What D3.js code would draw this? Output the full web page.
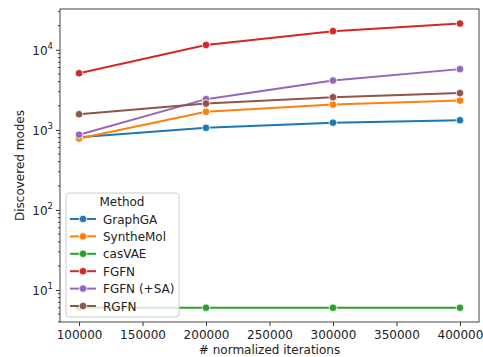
<!DOCTYPE html>
<html><head><meta charset="utf-8">
<script src="https://cdn.jsdelivr.net/npm/d3@7"></script>
<style>body{margin:0;background:#fff}text{font-family:"DejaVu Sans",sans-serif;fill:#222}</style>
</head><body><svg id="c" width="483" height="357"></svg>
<script>
const iterations = [100000, 200000, 300000, 400000];
const methods = ["GraphGA", "SyntheMol", "casVAE", "FGFN", "FGFN (+SA)", "RGFN"];
const colors = ["#1f77b4", "#ff7f0e", "#2ca02c", "#d62728", "#9467bd", "#8c564b"];
const graphGA = [810, 1060, 1230, 1320];
const syntheMol = [780, 1680, 2070, 2320];
const casVAE = [6, 6, 6, 6];
const fgfn = [5100, 11500, 17100, 21300];
const fgfnSA = [870, 2420, 4130, 5740];
const rgfn = [1570, 2130, 2560, 2880];
const seriesValues = [graphGA, syntheMol, casVAE, fgfn, fgfnSA, rgfn];
const xTicks = [100000, 150000, 200000, 250000, 300000, 350000, 400000];
const yTicks = [10, 100, 1000, 10000];

const svg = d3.select("#c");
const L = 60, R = 479, T = 9, B = 322;
const x = d3.scaleLinear().domain([85000, 415000]).range([L, R]);
const y = d3.scaleLog().domain([Math.pow(10, 0.6), Math.pow(10, 4.51)]).range([B, T]);

// x axis
const xa = svg.append("g").attr("transform", `translate(0,${B})`)
  .call(d3.axisBottom(x).tickValues(xTicks).tickFormat(d3.format("d")).tickSize(4).tickPadding(4));
xa.selectAll("text").style("font-size", "12px").attr("fill", "#222");
xa.select(".domain").remove();
xa.selectAll("line").attr("stroke", "#333");

// y axis major
const ya = svg.append("g").attr("transform", `translate(${L},0)`)
  .call(d3.axisLeft(y).tickValues(yTicks).tickFormat("").tickSize(4));
ya.select(".domain").remove();
ya.selectAll("line").attr("stroke", "#333");
// minor ticks
const minors = [];
for (let e = 0; e < 5; e++) for (let m = 2; m <= 9; m++) {
  const v = m * Math.pow(10, e);
  if (v >= y.domain()[0] && v <= y.domain()[1]) minors.push(v);
}
svg.append("g").selectAll("line").data(minors).join("line")
  .attr("x1", L - 2).attr("x2", L).attr("y1", d => y(d)).attr("y2", d => y(d)).attr("stroke", "#333");
// y labels
const yl = svg.append("g").selectAll("text").data(yTicks).join("text")
  .attr("x", L - 7).attr("y", d => y(d) + 5).attr("text-anchor", "end").style("font-size", "12px");
yl.append("tspan").text("10");
yl.append("tspan").text(d => Math.round(Math.log10(d))).attr("dy", -6).style("font-size", "8.5px");

// frame
svg.append("rect").attr("x", L).attr("y", T).attr("width", R - L).attr("height", B - T)
  .attr("fill", "none").attr("stroke", "#444").attr("stroke-width", 1);

// lines
const line = d3.line().x((d, i) => x(iterations[i])).y(d => y(d));
seriesValues.forEach((vals, k) => {
  svg.append("path").datum(vals).attr("d", line).attr("fill", "none")
    .attr("stroke", colors[k]).attr("stroke-width", 2);
  svg.append("g").selectAll("circle").data(vals).join("circle")
    .attr("cx", (d, i) => x(iterations[i])).attr("cy", d => y(d)).attr("r", 3.8)
    .attr("fill", colors[k]).attr("stroke", "#fff").attr("stroke-width", 0.8);
});

// axis titles
svg.append("text").attr("x", (L + R) / 2).attr("y", 354).attr("text-anchor", "middle")
  .style("font-size", "12px").text("# normalized iterations");
svg.append("text").attr("transform", `translate(24,${(T + B) / 2}) rotate(-90)`).attr("text-anchor", "middle")
  .style("font-size", "12px").text("Discovered modes");

// legend
const lg = svg.append("g");
lg.append("rect").attr("x", 66).attr("y", 193).attr("width", 113).attr("height", 124).attr("rx", 3)
  .attr("fill", "#fff").attr("fill-opacity", 0.8).attr("stroke", "#ccc");
lg.append("text").attr("x", 122).attr("y", 206).attr("text-anchor", "middle").style("font-size", "12px").text("Method");
methods.forEach((m, k) => {
  const yy = 219 + k * 17.4;
  lg.append("line").attr("x1", 70).attr("x2", 96).attr("y1", yy).attr("y2", yy)
    .attr("stroke", colors[k]).attr("stroke-width", 2);
  lg.append("circle").attr("cx", 83).attr("cy", yy).attr("r", 3.8).attr("fill", colors[k])
    .attr("stroke", "#fff").attr("stroke-width", 0.8);
  lg.append("text").attr("x", 103).attr("y", yy + 4.5).style("font-size", "12px").text(m);
});
</script></body></html>
